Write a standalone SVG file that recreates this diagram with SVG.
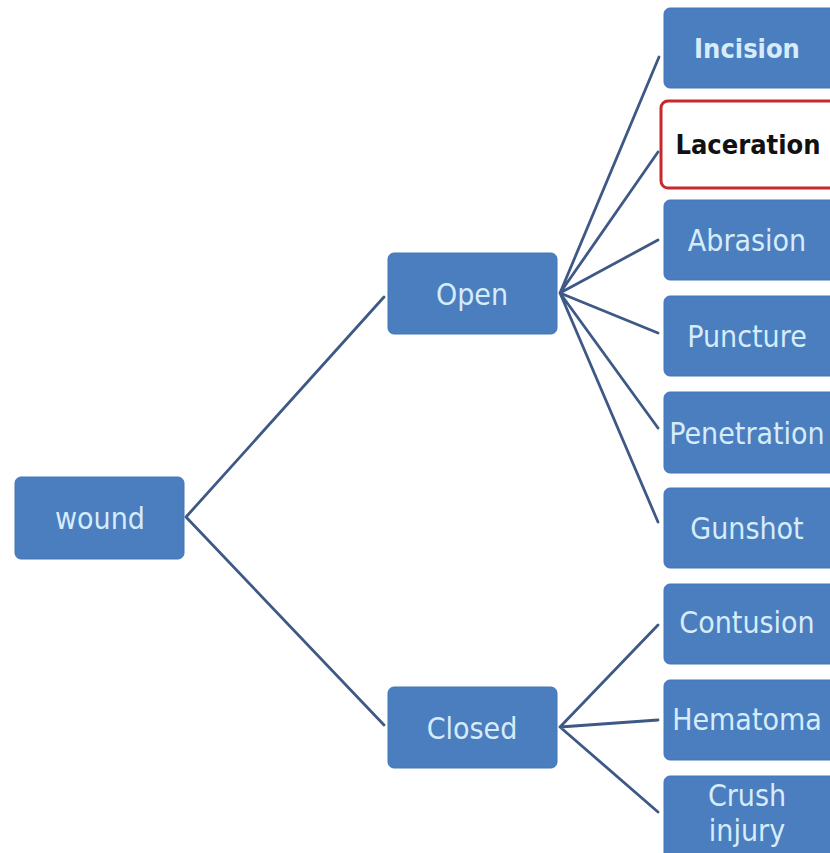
<svg xmlns="http://www.w3.org/2000/svg" width="830" height="853" viewBox="0 0 830 853">
  <style>
    .box { fill: #4a7ebf; stroke: #4476b5; stroke-width: 1; }
    .lbl { font-family: "DejaVu Sans Condensed", "DejaVu Sans", sans-serif; font-stretch: condensed; font-size: 30px; fill: #d6ecfb; text-anchor: middle; }
    .bold { font-weight: bold; font-size: 27px; }
    .link { stroke: #3e5985; stroke-width: 2.8; fill: none; stroke-linecap: round; }
  </style>
  <rect width="830" height="853" fill="#ffffff"/>

  <!-- connectors -->
  <g id="connectors">
    <path class="link" d="M186 517 L384 297 M186 517 L384 725"/>
    <path class="link" d="M560 293 L659 57 M560 293 L658 152 M560 293 L658 240 M560 293 L658 333 M560 293 L658 428 M560 293 L658 522"/>
    <path class="link" d="M560 727 L658 625 M560 727 L658 720 M560 727 L658 812"/>
  </g>

  <g id="wound">
    <rect class="box" x="15" y="477" width="169" height="82" rx="6"/>
    <text class="lbl" x="100" y="529">wound</text>
  </g>
  <g id="open">
    <rect class="box" x="388" y="253" width="169" height="81" rx="6"/>
    <text class="lbl" x="472" y="305">Open</text>
  </g>
  <g id="closed">
    <rect class="box" x="388" y="687" width="169" height="81" rx="6"/>
    <text class="lbl" x="472" y="739">Closed</text>
  </g>

  <g id="incision">
    <rect class="box" x="664" y="8" width="175" height="80" rx="6"/>
    <text class="lbl bold" x="747" y="58">Incision</text>
  </g>
  <g id="laceration">
    <rect x="661" y="101" width="178" height="87" rx="7" fill="#ffffff" stroke="#c8282c" stroke-width="3"/>
    <text class="lbl bold" x="748" y="154" style="fill:#111111">Laceration</text>
  </g>
  <g id="abrasion">
    <rect class="box" x="664" y="200" width="175" height="80" rx="6"/>
    <text class="lbl" x="747" y="251">Abrasion</text>
  </g>
  <g id="puncture">
    <rect class="box" x="664" y="296" width="175" height="80" rx="6"/>
    <text class="lbl" x="747" y="347">Puncture</text>
  </g>
  <g id="penetration">
    <rect class="box" x="664" y="392" width="175" height="81" rx="6"/>
    <text class="lbl" x="747" y="444">Penetration</text>
  </g>
  <g id="gunshot">
    <rect class="box" x="664" y="488" width="175" height="80" rx="6"/>
    <text class="lbl" x="747" y="539">Gunshot</text>
  </g>
  <g id="contusion">
    <rect class="box" x="664" y="584" width="175" height="80" rx="6"/>
    <text class="lbl" x="747" y="633">Contusion</text>
  </g>
  <g id="hematoma">
    <rect class="box" x="664" y="680" width="175" height="80" rx="6"/>
    <text class="lbl" x="747" y="730">Hematoma</text>
  </g>
  <g id="crush-injury">
    <rect class="box" x="664" y="776" width="175" height="90" rx="6"/>
    <text class="lbl" x="747" y="806">Crush</text>
    <text class="lbl" x="747" y="841">injury</text>
  </g>
</svg>
